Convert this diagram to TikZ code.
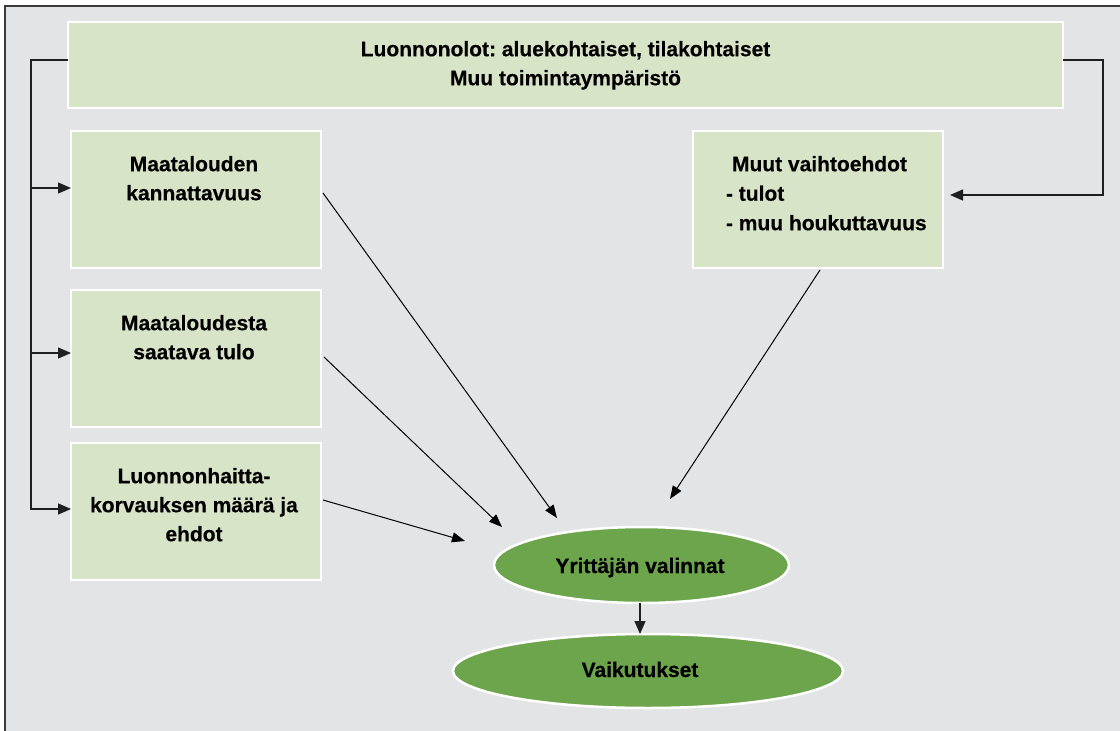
\documentclass[tikz,border=0pt]{standalone}
\usepackage{fontspec}
\setmainfont{Liberation Sans}[BoldFeatures={FakeBold=0.4}]
\usetikzlibrary{arrows.meta,shapes.geometric,calc}
\definecolor{bgg}{HTML}{E3E4E6}
\definecolor{boxg}{HTML}{D8E4C8}
\definecolor{ellg}{HTML}{6DA54C}
\definecolor{framec}{HTML}{3A3A3A}
\frenchspacing
\begin{document}
\begin{tikzpicture}[x=1pt,y=-1pt,
  box/.style={rectangle, fill=boxg, draw=white, line width=2.5pt, inner sep=0pt, outer sep=0pt},
  oval/.style={ellipse, fill=ellg, draw=white, line width=2.5pt, inner sep=0pt, outer sep=0pt},
  txt/.style={inner sep=0pt, outer sep=0pt, font=\fontsize{21}{29}\selectfont\bfseries, text=black},
  conn/.style={draw=black!88, line width=1.3pt},
  arr/.style={conn, -{Triangle[length=13pt,width=11pt]}},
  diag/.style={draw=black, line width=1pt, -{Triangle[length=13pt,width=10pt]}}]
\useasboundingbox (0,0) rectangle (1120,731);
\fill[white] (0,0) rectangle (1120,731);
\fill[bgg] (5,6) rectangle (1120,731);
\draw[framec, line width=1.4pt] (5,731) -- (5,6) -- (1120,6);

% boxes
\node[box, minimum width=995pt, minimum height=86pt] (t) at (565.5,65) {};
\node[box, minimum width=250pt, minimum height=137pt] (b1) at (196,199.5) {};
\node[box, minimum width=250pt, minimum height=137pt] (b2) at (196,358.5) {};
\node[box, minimum width=250pt, minimum height=137pt] (b3) at (196,511.5) {};
\node[box, minimum width=250pt, minimum height=137pt] (rb) at (818,199.5) {};

% texts
\node[txt, align=center, anchor=north] (tt) at (565.5,41) {Luonnonolot: aluekohtaiset, tilakohtaiset\\Muu toimintaympäristö};
\node[txt, align=center, anchor=north] (b1t) at (194,156) {Maatalouden\\kannattavuus};
\node[txt, align=center, anchor=north] (b2t) at (194,315) {Maataloudesta\\saatava tulo};
\node[txt, align=center, anchor=north] (b3t) at (194,468) {Luonnonhaitta-\\korvauksen määrä ja\\ehdot};
\node[txt, align=left, anchor=north west, font=\fontsize{21}{29.5}\selectfont\bfseries] (rbt) at (726,156) {\hspace*{6pt}Muut vaihtoehdot\\- tulot\\- muu houkuttavuus};

% ellipses
\node[oval, minimum width=295pt, minimum height=76pt] (y1) at (641.5,565) {};
\node[oval, minimum width=390pt, minimum height=74pt] (v) at (648,671) {};
\node[txt, anchor=base] (y1t) at (640,573) {Yrittäjän valinnat};
\node[txt, anchor=base] (vt) at (640,677) {Vaikutukset};

% left feedback connector
\coordinate (tl) at (31,60);
\coordinate (j1) at (31,188);
\coordinate (j2) at (31,353);
\coordinate (j3) at (31,509);
\draw[arr] (t.west |- tl) -- (tl) -- (j3) -- (j3 -| b3.west);
\draw[arr] (j1) -- (j1 -| b1.west);
\draw[arr] (j2) -- (j2 -| b2.west);

% right connector
\coordinate (tr) at (1103,60);
\coordinate (rr) at (1103,195);
\draw[arr, shorten >=7pt] (t.east |- tr) -- (tr) -- (rr) -- (rr -| rb.east);

% diagonal arrows
\coordinate (e1) at (557,518);
\coordinate (e2) at (502,527);
\coordinate (e3) at (465,541);
\coordinate (e4) at (670,499);
\draw[diag] ([shift={(2pt,6.5pt)}]b1.east) -- (e1);
\draw[diag] ([shift={(3pt,1.5pt)}]b2.east) -- (e2);
\draw[diag] ([shift={(2pt,11.5pt)}]b3.east) -- (e3);
\draw[diag] ([shift={(2pt,-2pt)}]rb.south) -- (e4);

% ellipse arrow
\draw[arr, line width=1.2pt] (y1.south -| y1t.south) -- (y1t.south |- v.north);
\end{tikzpicture}
\end{document}
